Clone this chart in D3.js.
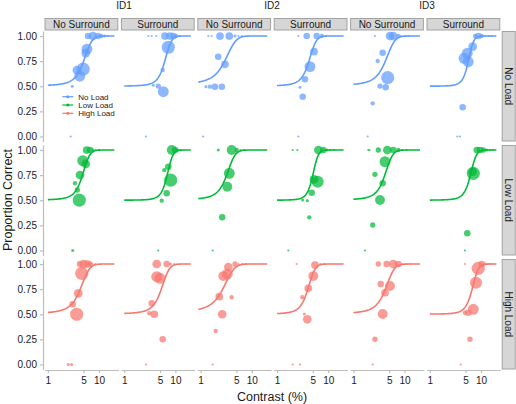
<!DOCTYPE html>
<html><head><meta charset="utf-8">
<script src="https://cdn.jsdelivr.net/npm/d3@7"></script>
<style>
body{margin:0;background:#fff}
text{font-family:"Liberation Sans",Arial,Helvetica,sans-serif}
</style>
</head><body>
<svg id="chart" width="516" height="404"></svg>
<script>
// ---------- data ----------
const ids = ["ID1", "ID2", "ID3"];
const surrounds = ["No Surround", "Surround"];
const loads = ["No Load", "Low Load", "High Load"];
const loadColors = ["#619CFF", "#00BA38", "#F8766D"];
const xTicks = [1, 5, 10];
const yTicks = [0, 0.25, 0.5, 0.75, 1];
const idLabelX = [124, 272, 427];

// fitted psychometric functions per panel: rows = load, cols = ID1 NS, ID1 S, ID2 NS, ID2 S, ID3 NS, ID3 S
const thresholds = [
  [5.0, 6.2, 2.95, 4.2, 4.2, 5.65],
  [4.75, 6.9, 3.22, 5.0, 4.1, 6.2],
  [4.3, 5.3, 2.7, 4.0, 4.2, 6.7]
];
const spreads = [
  [1.03, 1.0, 0.85, 0.75, 1.0, 0.72],
  [0.85, 0.95, 0.68, 0.65, 0.8, 0.9],
  [1.0, 1.05, 0.8, 0.7, 0.95, 1.0]
];
const curveFrom = [
  [1, 1, 0.9, 1, 1, 1],
  [1, 1, 0.9, 1, 1, 1],
  [1, 1, 0.9, 1, 1, 1]
];
const curveTo = 20;

// observed points: [contrast %, proportion correct, number of trials]
const noLoad_ID1_NoSurround = [[5.8,0.87,50],[5.5,0.83,32],[4.9,0.67,73],[3.7,0.66,32],[4.2,0.60,50],[3.0,0.50,4],[2.8,0,2],[6.1,1,18],[7.6,1,32],[9.5,1,18],[11,1,8],[12.8,1,4],[14.8,1,2]];
const noLoad_ID1_Surround = [[7.27,0.888,73],[5.64,0.662,8],[4.63,0.502,12],[3.69,0.51,4],[5.8,0.446,50],[2.66,0,2],[2.95,1,2],[3.44,1,2],[4.2,1,2],[6.26,1,25],[7.85,1,25],[9.1,1,18],[10.3,1,8],[12,1,2]];
const noLoad_ID2_NoSurround = [[1.41,1,2],[1.64,1,2],[2.39,1,25],[3.63,1,25],[4.7,1,4],[5.48,1,2],[6.4,1,2],[2.2,0.794,18],[2.99,0.718,25],[1.27,0.496,4],[1.52,0.496,8],[1.9,0.496,18],[2.6,0.496,18],[1.12,0,2]];
const noLoad_ID2_Surround = [[2.6,1,2],[3.8,1,18],[5.96,1,18],[7.5,1,8],[9,1,2],[5.28,0.844,25],[4.4,0.695,50],[3.52,0.569,18],[2.81,0.49,4],[3.17,0.396,18],[2.6,0,2]];
const noLoad_ID3_NoSurround = [[2.63,1,2],[5.19,1,32],[6.0,1,32],[7.54,1,8],[8.5,1,2],[10,1,2],[12,1,2],[3.73,0.834,18],[2.98,0.751,8],[4.67,0.585,73],[3.3,0.502,12],[4.27,0.49,18],[2.38,0.33,8],[1.9,0,2]];
const noLoad_ID3_Surround = [[7.63,1,8],[8.85,1,18],[10.3,1,8],[12,1,2],[14,1,2],[16,1,2],[6.88,0.894,32],[5.39,0.828,50],[4.65,0.778,50],[5.64,0.744,50],[4.38,0.29,18],[3.44,0,2],[3.88,0,2]];

const lowLoad_ID1_NoSurround = [[5.75,1,25],[6.67,1,18],[7.5,1,4],[8.5,1,2],[10,1,2],[4.8,0.894,50],[5.5,0.861,32],[4.25,0.751,32],[3.39,0.669,8],[3.77,0.602,12],[4.12,0.502,73],[3.06,0,4]];
const lowLoad_ID1_Surround = [[8.5,1,41],[9.83,1,18],[11,1,4],[12.5,1,2],[7.27,0.834,18],[6.06,0.80,8],[8.09,0.70,73],[6.75,0.569,18],[5.39,0.496,8],[4.62,0,2]];
const lowLoad_ID2_NoSurround = [[2.21,1,4],[4.04,1,41],[5.07,1,8],[6,1,2],[7,1,2],[3.63,0.768,50],[3.32,0.635,41],[2.64,0.33,18],[1.72,0,2]];
const lowLoad_ID2_Surround = [[2.02,1,2],[2.49,1,2],[6.42,1,32],[8.03,1,18],[9.5,1,4],[11,1,2],[13,1,2],[5.28,0.708,32],[6.23,0.685,61],[4.76,0.575,18],[3.17,0.502,4],[3.9,0.496,4],[4.27,0.33,8],[1.66,0,2]];
const lowLoad_ID3_NoSurround = [[1.95,1,2],[2.06,1,2],[3.06,1,12],[4.59,1,32],[6.0,1,18],[7.54,1,8],[9,1,2],[11,1,2],[4.14,0.884,50],[2.63,0.758,12],[3.73,0.669,18],[3.3,0.502,41],[2.38,0.254,12],[1.68,0,2]];
const lowLoad_ID3_Surround = [[8.24,1,18],[9.56,1,18],[11.1,1,12],[13,1,4],[15,1,2],[17,1,2],[7.07,0.768,73],[6.88,0.784,32],[5.39,0.171,18],[4.86,0,2]];

const highLoad_ID1_NoSurround = [[4.25,1,18],[5.0,1,32],[5.9,1,25],[6.7,1,12],[7.5,1,2],[8.5,1,2],[4.6,0.907,73],[3.93,0.708,32],[3.06,0.6,18],[3.66,0.50,73],[2.51,0,4],[2.92,0,4]];
const highLoad_ID1_Surround = [[4.31,1,32],[6.75,1,18],[8,1,4],[9.5,1,2],[4.31,0.874,50],[5.0,0.858,50],[3.44,0.609,18],[3.09,0.51,8],[3.87,0.50,25],[5.64,0.251,18],[2.66,0,2]];
const highLoad_ID2_NoSurround = [[2.77,0.88,41],[3.32,0.9,50],[3.48,0.97,32],[4.7,1,12],[5.5,1,2],[6.5,1,2],[7.5,1,2],[2.31,0.675,25],[4.04,0.669,8],[2.64,0.50,32],[1.97,0.333,8],[1.72,0,2]];
const highLoad_ID2_Surround = [[5.11,0.88,41],[5.51,0.99,25],[2.42,1,2],[7,1,2],[8.5,1,2],[4.08,0.758,25],[3.12,0.669,8],[3.41,0.502,4],[3.9,0.45,32],[2.02,0,2],[2.81,0,2]];
const highLoad_ID3_NoSurround = [[3.41,0.80,18],[5.19,0.781,41],[4.14,0.714,25],[3.73,0.502,41],[2.63,0.251,12],[2.38,0,2],[3.06,1,12],[4.46,1,18],[6.0,1,32],[7.54,1,18],[9,1,2],[11,1,2],[13,1,2]];
const highLoad_ID3_Surround = [[7.98,0.814,61],[7.07,0.549,50],[5.64,0.515,18],[4.86,0.515,8],[6.09,0.251,12],[4.0,0,2],[4.86,1,2],[8.85,0.957,73],[10.3,1,18],[12,1,4],[14,1,2],[16,1,2]];

const panelPoints = [
  [noLoad_ID1_NoSurround, noLoad_ID1_Surround, noLoad_ID2_NoSurround, noLoad_ID2_Surround, noLoad_ID3_NoSurround, noLoad_ID3_Surround],
  [lowLoad_ID1_NoSurround, lowLoad_ID1_Surround, lowLoad_ID2_NoSurround, lowLoad_ID2_Surround, lowLoad_ID3_NoSurround, lowLoad_ID3_Surround],
  [highLoad_ID1_NoSurround, highLoad_ID1_Surround, highLoad_ID2_NoSurround, highLoad_ID2_Surround, highLoad_ID3_NoSurround, highLoad_ID3_Surround]
];

// ---------- layout ----------
const svg = d3.select("#chart");
const colLeft0 = 44.5, colStep = 76.4, panelW = 73.8;
const rowTop0 = 31, rowStep = 114, panelH = 110.5;
const stripTop = 18, stripH = 12.5;
const rightStripX = 501.7, rightStripW = 14;
const axisGrey = "#bdbdbd";

const xData = [1, 20.5];
const lx0 = Math.log10(xData[0]), lx1 = Math.log10(xData[1]);
const xpad = (lx1 - lx0) * 0.05;
const x = d3.scaleLog().domain([Math.pow(10, lx0 - xpad), Math.pow(10, lx1 + xpad)]).range([0, panelW]);
const y = d3.scaleLinear().domain([-0.05, 1.05]).range([panelH, 0]);
const rScale = d3.scaleSqrt().domain([0, 80]).range([0, 6.9]);

function psych(c, mu, s) { return 0.5 + 0.5 / (1 + Math.exp(-(c - mu) / s)); }

// ID headers
ids.forEach((id, i) => {
  svg.append("text").attr("x", idLabelX[i]).attr("y", 8.5).attr("text-anchor", "middle")
    .attr("font-size", 10).attr("fill", "#1a1a1a").text(id);
});

// top strips
for (let col = 0; col < 6; col++) {
  const x0 = colLeft0 + col * colStep;
  svg.append("rect").attr("x", x0 + 0.5).attr("y", stripTop + 0.5).attr("width", panelW - 1).attr("height", stripH - 1)
    .attr("fill", "#d6d6d6").attr("stroke", "#a3a3a3").attr("stroke-width", 1);
  svg.append("text").attr("x", x0 + panelW / 2).attr("y", stripTop + stripH / 2 + 3.6)
    .attr("text-anchor", "middle").attr("font-size", 10).attr("fill", "#1a1a1a")
    .text(surrounds[col % 2]);
}

// right strips
loads.forEach((ld, r) => {
  const y0 = rowTop0 + r * rowStep;
  svg.append("rect").attr("x", rightStripX + 0.5).attr("y", y0 + 0.5).attr("width", rightStripW - 1).attr("height", panelH - 1)
    .attr("fill", "#d6d6d6").attr("stroke", "#a3a3a3").attr("stroke-width", 1);
  svg.append("text").attr("transform", `translate(${rightStripX + rightStripW / 2 - 3.6},${y0 + panelH / 2}) rotate(90)`)
    .attr("text-anchor", "middle").attr("font-size", 10).attr("fill", "#1a1a1a").text(ld);
});

// panels
const line = d3.line().x(d => x(d[0])).y(d => y(d[1]));
for (let r = 0; r < 3; r++) {
  for (let col = 0; col < 6; col++) {
    const g = svg.append("g").attr("transform", `translate(${colLeft0 + col * colStep},${rowTop0 + r * rowStep})`);
    const pts = panelPoints[r][col].slice().sort((a, b) => b[2] - a[2]);
    g.selectAll("circle").data(pts).join("circle")
      .attr("cx", d => x(d[0])).attr("cy", d => y(d[1])).attr("r", d => rScale(d[2]))
      .attr("fill", loadColors[r]).attr("fill-opacity", 0.72);
    const mu = thresholds[r][col], s = spreads[r][col];
    const lf = Math.log10(curveFrom[r][col]), lt = Math.log10(curveTo);
    const cs = d3.range(0, 121).map(i => Math.pow(10, lf + (lt - lf) * i / 120));
    g.append("path").datum(cs.map(c => [c, psych(c, mu, s)]))
      .attr("d", line).attr("fill", "none").attr("stroke", loadColors[r]).attr("stroke-width", 1.6);
  }
}

// y axes (left column)
for (let r = 0; r < 3; r++) {
  const ax = svg.append("g").attr("transform", `translate(${colLeft0 - 1.5},${rowTop0 + r * rowStep})`)
    .call(d3.axisLeft(y).tickValues(yTicks).tickFormat(d3.format(".2f")).tickSize(3).tickSizeOuter(0).tickPadding(3));
  ax.select(".domain").attr("stroke", axisGrey).attr("stroke-width", 1.2);
  ax.selectAll(".tick line").attr("stroke", axisGrey).attr("stroke-width", 1.2);
  ax.selectAll(".tick text").attr("font-size", 10).attr("fill", "#1a1a1a").attr("font-family", "Liberation Sans, Arial, sans-serif");
}

// x axes (bottom row)
for (let col = 0; col < 6; col++) {
  const ax = svg.append("g").attr("transform", `translate(${colLeft0 + col * colStep},${rowTop0 + 2 * rowStep + panelH + 0.5})`)
    .call(d3.axisBottom(x).tickValues(xTicks).tickFormat(d3.format("d")).tickSize(3).tickSizeOuter(0).tickPadding(4));
  ax.select(".domain").attr("stroke", axisGrey).attr("stroke-width", 1.2);
  ax.selectAll(".tick line").attr("stroke", axisGrey).attr("stroke-width", 1.2);
  ax.selectAll(".tick text").attr("font-size", 10).attr("fill", "#1a1a1a").attr("font-family", "Liberation Sans, Arial, sans-serif");
}

// axis titles
svg.append("text").attr("x", 272).attr("y", 401).attr("text-anchor", "middle")
  .attr("font-size", 12.5).attr("fill", "#1a1a1a").text("Contrast (%)");
svg.append("text").attr("transform", "translate(12,200) rotate(-90)").attr("text-anchor", "middle")
  .attr("font-size", 12.5).attr("fill", "#1a1a1a").text("Proportion Correct");

// legend inside first panel
const lg = svg.append("g");
loads.forEach((ld, i) => {
  const yy = 96.7 + i * 8.3;
  lg.append("line").attr("x1", 62.3).attr("x2", 73.3).attr("y1", yy).attr("y2", yy)
    .attr("stroke", loadColors[i]).attr("stroke-width", 1.2);
  lg.append("circle").attr("cx", 67.8).attr("cy", yy).attr("r", 1.5).attr("fill", loadColors[i]);
  lg.append("text").attr("x", 78.3).attr("y", yy + 2.9).attr("font-size", 8).attr("fill", "#1a1a1a").text(ld);
});
</script>
</body></html>
